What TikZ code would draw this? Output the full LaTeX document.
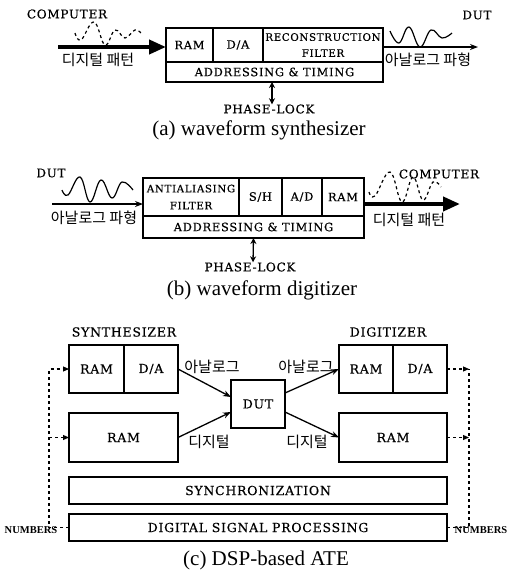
\documentclass[tikz,border=0pt]{standalone}
\usepackage{fontspec}
\setmainfont{DejaVu Serif}
\newfontfamily\lblfont[LetterSpace=6, FakeBold=0.4]{DejaVu Serif}
\newfontfamily\korfont{Noto Sans CJK KR}
\newfontfamily\capfont{Liberation Serif}
\usetikzlibrary{arrows.meta, positioning, calc}

\begin{document}
\begin{tikzpicture}[x=1pt, y=-1pt,
    cell/.style={draw, line width=1.3pt, inner sep=0pt, outer sep=0pt, align=center, font=\lblfont\fontsize{11.5}{16}\selectfont},
    bigcell/.style={cell, font=\lblfont\fontsize{12.5}{15}\selectfont},
    lbl/.style={inner sep=0pt, font=\lblfont\fontsize{12}{13}\selectfont},
    kor/.style={inner sep=0pt, font=\korfont\fontsize{15}{16}\selectfont},
    numlbl/.style={inner sep=0pt, font=\capfont\bfseries\fontsize{10.5}{12}\selectfont},
    caption/.style={inner sep=0pt, font=\capfont\fontsize{21}{22}\selectfont},
    wave/.style={line width=1.2pt},
    dwave/.style={line width=1.2pt, dash pattern=on 3pt off 3pt},
    thin/.style={line width=1.3pt, -{Stealth[length=8pt,width=6pt]}},
    bus/.style={line width=4pt, -{Triangle[length=17pt,width=14pt]}},
    pl/.style={line width=1.3pt, {Stealth[length=6pt,width=6pt]}-{Stealth[length=6pt,width=6pt]}},
    sig/.style={line width=1.3pt, -{Stealth[length=8pt,width=6pt]}},
    fb/.style={line width=1.1pt, dash pattern=on 3pt off 3pt},
    fbarrow/.style={fb, -{Triangle[length=6pt,width=5pt]}}
]
\useasboundingbox (0,0) rectangle (511,574);

% (a) waveform synthesizer
\node[cell, minimum width=47pt, minimum height=34pt] (ram1) at (189.5,45) {RAM};
\node[cell, minimum width=50pt, minimum height=34pt] (da1) at (238,45) {D/A};
\node[cell, minimum width=120pt, minimum height=34pt, font=\lblfont\fontsize{10.3}{16}\selectfont] (rf1) at (323,45) {RECONSTRUCTION\\FILTER};
\node[cell, minimum width=217pt, minimum height=20pt] (at1) at (274.5,72) {ADDRESSING \& TIMING};
\node[lbl] (pl1) at (269,109) {PHASE-LOCK};
\node[lbl] (comp1) at (67,14) {COMPUTER};
\node[lbl] (dut1) at (477,15) {DUT};
\node[kor] (dig1) at (98,60) {디지털 패턴};
\node[kor] (ana1) at (428,60) {아날로그 파형};
\node[caption] (cap1) at (259,130) {(a) waveform synthesizer};

\coordinate (ain) at (58,47);
\coordinate (aout) at (478,47);
\draw[bus] (ain) -- (ain -| ram1.west);
\draw[thin] (aout -| rf1.east) -- (aout);
\draw[pl] ([xshift=-2.5pt]at1.south) -- ([xshift=3pt]pl1.north);
\draw[dwave] plot[smooth, tension=0.7] coordinates {(75,33) (81,40) (94,22) (105,45) (115,30) (125,38) (135,30) (142,34)};
\draw[wave] plot[smooth, tension=0.7] coordinates {(390,31) (399,43) (409,27) (420,47) (431,30) (442,38) (452,33)};

% (b) waveform digitizer
\node[cell, minimum width=96pt, minimum height=38pt, font=\lblfont\fontsize{10.3}{17}\selectfont] (af2) at (191,197) {ANTIALIASING\\FILTER};
\node[cell, minimum width=43pt, minimum height=38pt] (sh2) at (260.5,197) {S/H};
\node[cell, minimum width=40pt, minimum height=38pt] (ad2) at (302,197) {A/D};
\node[cell, minimum width=42pt, minimum height=38pt] (ram2) at (343,197) {RAM};
\node[cell, minimum width=221pt, minimum height=22pt] (at2) at (253.5,227) {ADDRESSING \& TIMING};
\node[lbl] (pl2) at (250,267) {PHASE-LOCK};
\node[lbl] (dut2) at (51,173) {DUT};
\node[lbl] (comp2) at (439,174) {COMPUTER};
\node[kor] (ana2) at (94,218) {아날로그 파형};
\node[kor] (dig2) at (409,220) {디지털 패턴};
\node[caption] (cap2) at (262,290) {(b) waveform digitizer};

\coordinate (bin) at (52,204);
\coordinate (bout) at (460,204);
\draw[thin] (bin) -- (bin -| af2.west);
\draw[bus] (bout -| ram2.east) -- (bout);
\draw[pl] (at2.south) -- ([xshift=3pt]pl2.north);
\draw[wave] plot[smooth, tension=0.7] coordinates {(62,190) (68,195) (80,177) (90,202) (101,180) (112,198) (122,182) (133,190)};
\draw[dwave] plot[smooth, tension=0.7] coordinates {(369,192) (375,196) (390,172) (402,202) (413,177) (423,200) (433,182) (441,187)};

% (c) DSP-based ATE
\node[lbl, font=\lblfont\fontsize{12.5}{14}\selectfont] (synl) at (124,332) {SYNTHESIZER};
\node[lbl, font=\lblfont\fontsize{12.5}{14}\selectfont] (digl) at (388,332) {DIGITIZER};
\node[bigcell, minimum width=55pt, minimum height=48pt] (sra) at (96.5,369) {RAM};
\node[bigcell, minimum width=54pt, minimum height=48pt] (sda) at (151,369) {D/A};
\node[bigcell, minimum width=109pt, minimum height=49pt] (srm) at (123.5,437.5) {RAM};
\node[bigcell, minimum width=54pt, minimum height=48pt] (dut) at (258,404) {DUT};
\node[bigcell, minimum width=54pt, minimum height=48pt] (dra) at (366,369) {RAM};
\node[bigcell, minimum width=54pt, minimum height=48pt] (dda) at (420,369) {D/A};
\node[bigcell, minimum width=108pt, minimum height=49pt] (drm) at (393,437.5) {RAM};
\node[bigcell, minimum width=378pt, minimum height=27pt] (sync) at (258,490.5) {SYNCHRONIZATION};
\node[bigcell, minimum width=378pt, minimum height=27pt] (dsp) at (258,527.5) {DIGITAL SIGNAL PROCESSING};
\node[kor] (sana) at (212,367) {아날로그};
\node[kor] (sdig) at (209,442) {디지털};
\node[kor] (dana) at (306,367) {아날로그};
\node[kor] (ddig) at (307,442) {디지털};
\node[numlbl] (numl) at (31,530) {NUMBERS};
\node[numlbl] (numr) at (481,530) {NUMBERS};
\node[caption] (cap3) at (266,560) {(c) DSP-based ATE};

\draw[sig] (sda.east) -- ([yshift=7pt]dut.west);
\draw[sig] (srm.east) -- ([yshift=-8pt]dut.west);
\draw[sig] ([yshift=11pt]dut.east) -- (dra.west);
\draw[sig] ([yshift=-8pt]dut.east) -- (drm.west);

% number paths
\coordinate (lbus) at (49,0);
\coordinate (rbus) at (469,0);
\draw[fbarrow] (dsp.west) -- (dsp.west -| lbus) -- (sra.west -| lbus) -- (sra.west);
\draw[fbarrow] (srm.west -| lbus) -- (srm.west);
\draw[fb] (dsp.east) -- (dsp.east -| rbus) -- (dda.east -| rbus);
\draw[fbarrow] (dda.east) -- (dda.east -| rbus);
\draw[fbarrow] (drm.east) -- (drm.east -| rbus);
\end{tikzpicture}
\end{document}
